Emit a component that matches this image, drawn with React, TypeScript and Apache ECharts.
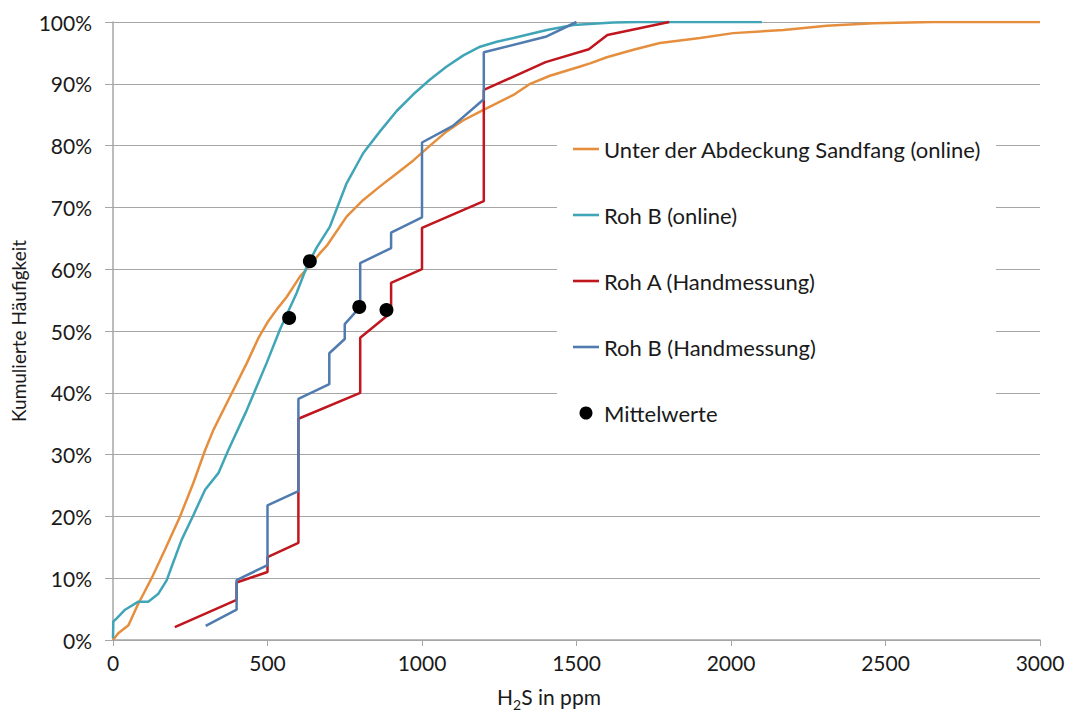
import React, { useEffect, useRef } from "react";
import * as echarts from "echarts";

const xTicks = [0, 500, 1000, 1500, 2000, 2500, 3000];
const seriesNames = [
  "Unter der Abdeckung Sandfang (online)",
  "Roh B (online)",
  "Roh A (Handmessung)",
  "Roh B (Handmessung)",
  "Mittelwerte",
];

const sandfangOnline: [number, number][] = [
  [0, 0], [17, 1.1], [50, 2.4], [82, 5.9], [98, 7.4], [125, 10], [168, 14.6], [217, 20],
  [260, 25.4], [298, 30.7], [325, 34], [379, 39.4], [433, 44.8], [470, 48.8], [500, 51.4],
  [530, 53.5], [562, 55.5], [605, 58.8], [637, 60.6], [670, 62.6], [692, 63.8], [756, 68.5], [810, 71.2],
  [864, 73.4], [918, 75.5], [972, 77.6], [1026, 80], [1080, 82.3], [1134, 84.1], [1188, 85.5],
  [1296, 88.2], [1350, 90], [1414, 91.3], [1512, 92.8], [1544, 93.3], [1598, 94.3],
  [1684, 95.5], [1770, 96.6], [1900, 97.4], [2007, 98.2], [2170, 98.7], [2310, 99.4],
  [2460, 99.8], [2654, 100], [3000, 100],
];

const rohBOnline: [number, number][] = [
  [0, 0.3], [1, 3], [12, 3.5], [39, 4.9], [82, 6.2], [114, 6.2], [147, 7.5], [174, 9.7],
  [190, 11.9], [222, 16.2], [260, 20.2], [298, 24.3], [341, 27], [373, 30.7], [433, 37.2],
  [497, 44.8], [540, 50.2], [594, 56.1], [627, 60.4], [659, 63.5], [702, 66.9], [756, 73.9],
  [810, 78.8], [864, 82.3], [918, 85.6], [972, 88.3], [1026, 90.7], [1080, 92.8],
  [1134, 94.6], [1188, 96], [1242, 96.8], [1296, 97.4], [1404, 98.7], [1490, 99.5],
  [1619, 99.9], [1700, 100], [2100, 100],
];

const rohAHand: [number, number][] = [
  [200, 2.1], [400, 6.5], [400, 9.3], [500, 11], [500, 13.4], [600, 15.7], [600, 35.8],
  [800, 40], [800, 48.9], [900, 53], [900, 57.8], [1000, 60], [1000, 66.7], [1200, 71],
  [1200, 89], [1400, 93.5], [1540, 95.6], [1600, 97.9], [1800, 100],
];

const rohBHand: [number, number][] = [
  [300, 2.3], [400, 4.9], [400, 9.7], [500, 12.1], [500, 21.8], [600, 24.1], [600, 39],
  [700, 41.4], [700, 46.4], [750, 48.7], [750, 51.1], [800, 53.9], [800, 61], [900, 63.4],
  [900, 65.9], [1000, 68.4], [1000, 80.5], [1100, 83.2], [1200, 87.5], [1200, 95.1],
  [1400, 97.6], [1500, 100],
];

const mittelwerte: [number, number][] = [
  [570, 52.1], [637, 61.3], [797, 53.9], [885, 53.4],
];

const colors = ["#E58F3E", "#41A5B8", "#C0161E", "#4F7BAF", "#000000"];
const FONT = "Lato";
const LINE_ICON = "path://M0,0H100V10H0Z";

export default function App() {
  const ref = useRef<HTMLDivElement>(null);
  useEffect(() => {
    document.body.style.margin = "0";
    const chart = echarts.init(ref.current!, undefined, { renderer: "svg" });
    const lineSeries = (name: string, data: [number, number][], color: string) => ({
      name,
      type: "line",
      data,
      symbol: "none",
      lineStyle: { color, width: 2.5 },
      itemStyle: { color },
      z: 3,
    });
    chart.setOption({
      animation: false,
      backgroundColor: "#ffffff",
      textStyle: { fontFamily: FONT },
      grid: { left: 113, right: 27, top: 22, bottom: 73, outerBoundsMode: "none", containLabel: false },
      xAxis: {
        type: "value",
        min: xTicks[0],
        max: xTicks[xTicks.length - 1],
        interval: 500,
        axisLine: { show: true, lineStyle: { color: "#a6a6a6", width: 1.5 } },
        axisTick: { show: true, length: 6, lineStyle: { color: "#a6a6a6" } },
        splitLine: { show: false },
        axisLabel: {
          fontSize: 21,
          color: "#1a1a1a",
          margin: 12,
          fontFamily: FONT,
          formatter: (v: number) => String(v),
        },
      },
      yAxis: {
        type: "value",
        min: 0,
        max: 100,
        interval: 10,
        name: "Kumulierte Häufigkeit",
        nameLocation: "middle",
        nameRotate: 90,
        nameGap: 85,
        nameTextStyle: { fontSize: 19, color: "#1a1a1a", fontFamily: FONT },
        axisLine: { show: true, lineStyle: { color: "#a6a6a6", width: 1.5 } },
        axisTick: { show: true, length: 8, lineStyle: { color: "#a6a6a6" } },
        splitLine: { show: true, lineStyle: { color: "#a6a6a6", width: 1 } },
        axisLabel: {
          formatter: "{value}%",
          fontSize: 21,
          color: "#1a1a1a",
          margin: 21,
          fontFamily: FONT,
        },
      },
      legend: {
        orient: "vertical",
        left: 557,
        top: 115,
        padding: [23, 14, 21, 16],
        backgroundColor: "#ffffff",
        itemGap: 44,
        itemWidth: 26,
        itemHeight: 13,
        textStyle: { fontSize: 22, color: "#1a1a1a", fontFamily: FONT },
        data: [
          { name: seriesNames[0], icon: LINE_ICON },
          { name: seriesNames[1], icon: LINE_ICON },
          { name: seriesNames[2], icon: LINE_ICON },
          { name: seriesNames[3], icon: LINE_ICON },
          { name: seriesNames[4], icon: "circle" },
        ],
      },
      graphic: [
        {
          type: "text",
          x: 549,
          y: 695,
          style: {
            text: "{a|H}{b|2}{a|S in ppm}",
            textAlign: "center",
            textVerticalAlign: "middle",
            fill: "#1a1a1a",
            rich: {
              a: { fontSize: 21, fontFamily: FONT, fill: "#1a1a1a", lineHeight: 24, verticalAlign: "bottom" },
              b: { fontSize: 14, fontFamily: FONT, fill: "#1a1a1a", lineHeight: 24, verticalAlign: "bottom", padding: [0, 0, -4, 0] },
            },
          },
        },
      ],
      series: [
        lineSeries(seriesNames[0], sandfangOnline, colors[0]),
        lineSeries(seriesNames[1], rohBOnline, colors[1]),
        lineSeries(seriesNames[2], rohAHand, colors[2]),
        lineSeries(seriesNames[3], rohBHand, colors[3]),
        {
          name: seriesNames[4],
          type: "scatter",
          data: mittelwerte,
          symbol: "circle",
          symbolSize: 14,
          itemStyle: { color: colors[4], opacity: 1 },
          z: 5,
        },
      ],
    });
    return () => chart.dispose();
  }, []);
  return <div ref={ref} style={{ width: 1067, height: 713 }} />;
}
